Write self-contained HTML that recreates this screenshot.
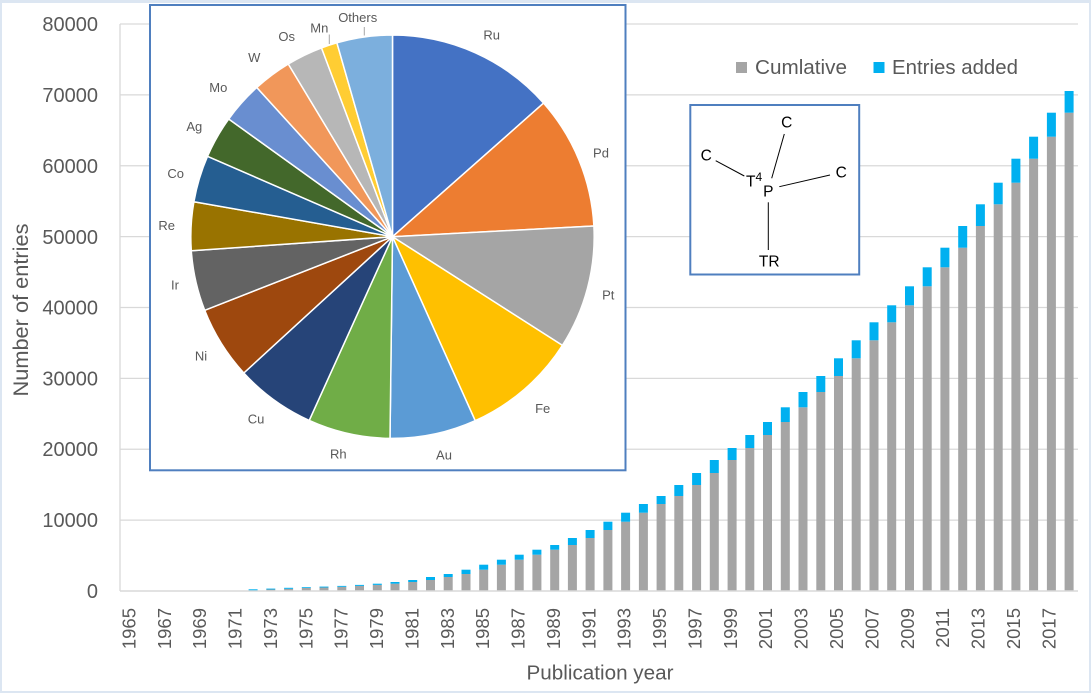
<!DOCTYPE html>
<html><head><meta charset="utf-8"><style>
html,body{margin:0;padding:0;background:#dce6f2;}
svg{display:block;}
text{font-family:"Liberation Sans",sans-serif;}
</style></head><body>
<svg width="1091" height="693" viewBox="0 0 1091 693" xmlns="http://www.w3.org/2000/svg">
<rect x="0" y="0" width="1091" height="693" fill="#dce6f2"/>
<rect x="2" y="3" width="1087" height="688" fill="#ffffff"/>

<!-- gridlines -->
<g stroke="#d9d9d9" stroke-width="1.3">
<line x1="120" y1="24" x2="1078" y2="24"/>
<line x1="120" y1="94.9" x2="1078" y2="94.9"/>
<line x1="120" y1="165.75" x2="1078" y2="165.75"/>
<line x1="120" y1="236.6" x2="1078" y2="236.6"/>
<line x1="120" y1="307.5" x2="1078" y2="307.5"/>
<line x1="120" y1="378.4" x2="1078" y2="378.4"/>
<line x1="120" y1="449.25" x2="1078" y2="449.25"/>
<line x1="120" y1="520.1" x2="1078" y2="520.1"/>
<line x1="120" y1="24" x2="120" y2="591"/>
</g>

<!-- y tick labels -->
<g font-size="20" fill="#595959" text-anchor="end">
<text x="98" y="31">80000</text>
<text x="98" y="102">70000</text>
<text x="98" y="173">60000</text>
<text x="98" y="244">50000</text>
<text x="98" y="314.5">40000</text>
<text x="98" y="385.5">30000</text>
<text x="98" y="456">20000</text>
<text x="98" y="527">10000</text>
<text x="98" y="598">0</text>
</g>

<!-- bars -->
<g fill="#a5a5a5">
<rect x="266.3" y="589.5" width="9" height="1.5"/>
<rect x="284.1" y="588.8" width="9" height="2.2"/>
<rect x="301.8" y="587.9" width="9" height="3.1"/>
<rect x="319.5" y="587.5" width="9" height="3.5"/>
<rect x="337.3" y="586.8" width="9" height="4.2"/>
<rect x="355.0" y="585.9" width="9" height="5.1"/>
<rect x="372.8" y="584.9" width="9" height="6.1"/>
<rect x="390.5" y="583.7" width="9" height="7.3"/>
<rect x="408.2" y="582" width="9" height="9"/>
<rect x="426.0" y="580" width="9" height="11"/>
<rect x="443.7" y="577" width="9" height="14"/>
<rect x="461.5" y="574" width="9" height="17"/>
<rect x="479.2" y="569.7" width="9" height="21.3"/>
<rect x="496.9" y="564.7" width="9" height="26.3"/>
<rect x="514.7" y="559.7" width="9" height="31.3"/>
<rect x="532.4" y="554.7" width="9" height="36.3"/>
<rect x="550.2" y="549.7" width="9" height="41.3"/>
<rect x="567.9" y="545" width="9" height="46"/>
<rect x="585.6" y="538" width="9" height="53"/>
<rect x="603.4" y="530" width="9" height="61"/>
<rect x="621.1" y="521.7" width="9" height="69.3"/>
<rect x="638.9" y="512.7" width="9" height="78.3"/>
<rect x="656.6" y="504" width="9" height="87"/>
<rect x="674.3" y="496" width="9" height="95"/>
<rect x="692.1" y="485" width="9" height="106"/>
<rect x="709.8" y="473" width="9" height="118"/>
<rect x="727.6" y="460" width="9" height="131"/>
<rect x="745.3" y="448" width="9" height="143"/>
<rect x="763.0" y="435" width="9" height="156"/>
<rect x="780.8" y="422" width="9" height="169"/>
<rect x="798.5" y="407.3" width="9" height="183.7"/>
<rect x="816.3" y="392" width="9" height="199"/>
<rect x="834.0" y="376" width="9" height="215"/>
<rect x="851.7" y="358.3" width="9" height="232.7"/>
<rect x="869.5" y="340.3" width="9" height="250.7"/>
<rect x="887.2" y="322.3" width="9" height="268.7"/>
<rect x="905.0" y="305.3" width="9" height="285.7"/>
<rect x="922.7" y="286.3" width="9" height="304.7"/>
<rect x="940.4" y="267.3" width="9" height="323.7"/>
<rect x="958.2" y="247.7" width="9" height="343.3"/>
<rect x="975.9" y="226" width="9" height="365"/>
<rect x="993.7" y="204.3" width="9" height="386.7"/>
<rect x="1011.4" y="182.7" width="9" height="408.3"/>
<rect x="1029.1" y="158.7" width="9" height="432.3"/>
<rect x="1046.9" y="136.7" width="9" height="454.3"/>
<rect x="1064.6" y="112.7" width="9" height="478.3"/>
</g>
<g fill="#00b0f0">
<rect x="248.6" y="589.3" width="9" height="1.7"/>
<rect x="266.3" y="588.6" width="9" height="0.9"/>
<rect x="284.1" y="587.8" width="9" height="1"/>
<rect x="301.8" y="587.2" width="9" height="0.8"/>
<rect x="319.5" y="586.6" width="9" height="0.9"/>
<rect x="337.3" y="585.9" width="9" height="0.9"/>
<rect x="355.0" y="584.9" width="9" height="1.0"/>
<rect x="372.8" y="583.7" width="9" height="1.2"/>
<rect x="390.5" y="582.0" width="9" height="1.7"/>
<rect x="408.2" y="580" width="9" height="2"/>
<rect x="426.0" y="577" width="9" height="3"/>
<rect x="443.7" y="574" width="9" height="3"/>
<rect x="461.5" y="569.7" width="9" height="4.3"/>
<rect x="479.2" y="564.7" width="9" height="5"/>
<rect x="496.9" y="559.7" width="9" height="5"/>
<rect x="514.7" y="554.7" width="9" height="5"/>
<rect x="532.4" y="549.7" width="9" height="5"/>
<rect x="550.2" y="545" width="9" height="4.7"/>
<rect x="567.9" y="538" width="9" height="7"/>
<rect x="585.6" y="530" width="9" height="8"/>
<rect x="603.4" y="521.7" width="9" height="8.3"/>
<rect x="621.1" y="512.7" width="9" height="9"/>
<rect x="638.9" y="504" width="9" height="8.7"/>
<rect x="656.6" y="496" width="9" height="8"/>
<rect x="674.3" y="485" width="9" height="11"/>
<rect x="692.1" y="473" width="9" height="12"/>
<rect x="709.8" y="460" width="9" height="13"/>
<rect x="727.6" y="448" width="9" height="12"/>
<rect x="745.3" y="435" width="9" height="13"/>
<rect x="763.0" y="422" width="9" height="13"/>
<rect x="780.8" y="407.3" width="9" height="14.7"/>
<rect x="798.5" y="392" width="9" height="15.3"/>
<rect x="816.3" y="376" width="9" height="16"/>
<rect x="834.0" y="358.3" width="9" height="17.7"/>
<rect x="851.7" y="340.3" width="9" height="18"/>
<rect x="869.5" y="322.3" width="9" height="18"/>
<rect x="887.2" y="305.3" width="9" height="17"/>
<rect x="905.0" y="286.3" width="9" height="19"/>
<rect x="922.7" y="267.3" width="9" height="19"/>
<rect x="940.4" y="247.7" width="9" height="19.6"/>
<rect x="958.2" y="226" width="9" height="21.7"/>
<rect x="975.9" y="204.3" width="9" height="21.7"/>
<rect x="993.7" y="182.7" width="9" height="21.6"/>
<rect x="1011.4" y="158.7" width="9" height="24"/>
<rect x="1029.1" y="136.7" width="9" height="22"/>
<rect x="1046.9" y="112.7" width="9" height="24"/>
<rect x="1064.6" y="91" width="9" height="21.7"/>
</g>

<!-- x axis line -->
<line x1="120" y1="591" x2="1078" y2="591" stroke="#d9d9d9" stroke-width="1.5"/>

<!-- x labels -->
<g font-size="18.5" fill="#595959" text-anchor="end">
<text transform="translate(135.4,608) rotate(-90)">1965</text>
<text transform="translate(170.8,608) rotate(-90)">1967</text>
<text transform="translate(206.2,608) rotate(-90)">1969</text>
<text transform="translate(241.5,608) rotate(-90)">1971</text>
<text transform="translate(276.9,608) rotate(-90)">1973</text>
<text transform="translate(312.3,608) rotate(-90)">1975</text>
<text transform="translate(347.7,608) rotate(-90)">1977</text>
<text transform="translate(383.1,608) rotate(-90)">1979</text>
<text transform="translate(418.4,608) rotate(-90)">1981</text>
<text transform="translate(453.8,608) rotate(-90)">1983</text>
<text transform="translate(489.2,608) rotate(-90)">1985</text>
<text transform="translate(524.6,608) rotate(-90)">1987</text>
<text transform="translate(560.0,608) rotate(-90)">1989</text>
<text transform="translate(595.3,608) rotate(-90)">1991</text>
<text transform="translate(630.7,608) rotate(-90)">1993</text>
<text transform="translate(666.1,608) rotate(-90)">1995</text>
<text transform="translate(701.5,608) rotate(-90)">1997</text>
<text transform="translate(736.9,608) rotate(-90)">1999</text>
<text transform="translate(772.2,608) rotate(-90)">2001</text>
<text transform="translate(807.6,608) rotate(-90)">2003</text>
<text transform="translate(843.0,608) rotate(-90)">2005</text>
<text transform="translate(878.4,608) rotate(-90)">2007</text>
<text transform="translate(913.8,608) rotate(-90)">2009</text>
<text transform="translate(949.1,608) rotate(-90)">2011</text>
<text transform="translate(984.5,608) rotate(-90)">2013</text>
<text transform="translate(1019.9,608) rotate(-90)">2015</text>
<text transform="translate(1055.3,608) rotate(-90)">2017</text>
</g>

<!-- axis titles -->
<text transform="translate(28,310) rotate(-90)" font-size="21" fill="#595959" text-anchor="middle" textLength="173" lengthAdjust="spacingAndGlyphs">Number of entries</text>
<text x="600" y="679.5" font-size="20" fill="#595959" text-anchor="middle" textLength="147" lengthAdjust="spacingAndGlyphs">Publication year</text>

<!-- legend -->
<rect x="736" y="62" width="11" height="11" fill="#a5a5a5"/>
<text x="755" y="74" font-size="20" fill="#595959" textLength="92" lengthAdjust="spacingAndGlyphs">Cumlative</text>
<rect x="873.5" y="62" width="11" height="11" fill="#00b0f0"/>
<text x="892" y="74" font-size="20" fill="#595959" textLength="126" lengthAdjust="spacingAndGlyphs">Entries added</text>

<!-- pie inset -->
<rect x="150" y="5" width="475.5" height="465.3" fill="#ffffff" stroke="#4f7fbf" stroke-width="2"/>
<g stroke="#ffffff" stroke-width="1.5" stroke-linejoin="round">
<path d="M392.5,236.7 L392.5,35 A201.7,201.7 0 0 1 543.6,103.1 Z" fill="#4472c4"/>
<path d="M392.5,236.7 L543.6,103.1 A201.7,201.7 0 0 1 593.9,226.0 Z" fill="#ed7d31"/>
<path d="M392.5,236.7 L593.9,226.0 A201.7,201.7 0 0 1 562.4,345.4 Z" fill="#a5a5a5"/>
<path d="M392.5,236.7 L562.4,345.4 A201.7,201.7 0 0 1 475.2,420.7 Z" fill="#ffc000"/>
<path d="M392.5,236.7 L475.2,420.7 A201.7,201.7 0 0 1 390.0,438.4 Z" fill="#5b9bd5"/>
<path d="M392.5,236.7 L390.0,438.4 A201.7,201.7 0 0 1 309.2,420.4 Z" fill="#70ad47"/>
<path d="M392.5,236.7 L309.2,420.4 A201.7,201.7 0 0 1 243.8,373.0 Z" fill="#264478"/>
<path d="M392.5,236.7 L243.8,373.0 A201.7,201.7 0 0 1 204.7,310.3 Z" fill="#9e480e"/>
<path d="M392.5,236.7 L204.7,310.3 A201.7,201.7 0 0 1 191.3,250.8 Z" fill="#636363"/>
<path d="M392.5,236.7 L191.3,250.8 A201.7,201.7 0 0 1 193.9,201.7 Z" fill="#997300"/>
<path d="M392.5,236.7 L193.9,201.7 A201.7,201.7 0 0 1 207.5,156.3 Z" fill="#255e91"/>
<path d="M392.5,236.7 L207.5,156.3 A201.7,201.7 0 0 1 228.7,119.0 Z" fill="#43682b"/>
<path d="M392.5,236.7 L228.7,119.0 A201.7,201.7 0 0 1 256.8,87.5 Z" fill="#698ed0"/>
<path d="M392.5,236.7 L256.8,87.5 A201.7,201.7 0 0 1 288.3,64.0 Z" fill="#f1975a"/>
<path d="M392.5,236.7 L288.3,64.0 A201.7,201.7 0 0 1 321.5,47.9 Z" fill="#b7b7b7"/>
<path d="M392.5,236.7 L321.5,47.9 A201.7,201.7 0 0 1 336.9,42.8 Z" fill="#ffcd33"/>
<path d="M392.5,236.7 L336.9,42.8 A201.7,201.7 0 0 1 392.5,35 Z" fill="#7cafdd"/>
</g>
<g stroke="#a6a6a6" stroke-width="1">
<line x1="329.3" y1="34.5" x2="329.3" y2="44"/>
<line x1="364.3" y1="27" x2="364.3" y2="35.5"/>
</g>
<g font-size="13" fill="#595959" text-anchor="middle">
<text x="491.7" y="39.5">Ru</text>
<text x="601" y="157.5">Pd</text>
<text x="608.3" y="299.5">Pt</text>
<text x="542.7" y="412.8">Fe</text>
<text x="444" y="459.5">Au</text>
<text x="338.3" y="458.5">Rh</text>
<text x="256" y="423.5">Cu</text>
<text x="201" y="360.5">Ni</text>
<text x="175" y="289.5">Ir</text>
<text x="166.7" y="230.2">Re</text>
<text x="175.7" y="177.8">Co</text>
<text x="194.3" y="131">Ag</text>
<text x="218.3" y="92.2">Mo</text>
<text x="254.3" y="62.2">W</text>
<text x="286.7" y="41.2">Os</text>
<text x="319.3" y="32.5">Mn</text>
<text x="357.7" y="22.2">Others</text>
</g>

<!-- structure inset -->
<rect x="690.3" y="105" width="168.9" height="169.5" fill="#ffffff" stroke="#4f7fbf" stroke-width="2"/>
<g stroke="#000000" stroke-width="1">
<line x1="784.3" y1="134" x2="771.7" y2="178.3"/>
<line x1="715.7" y1="160.7" x2="744.3" y2="176"/>
<line x1="779.3" y1="186.7" x2="830" y2="175"/>
<line x1="768.3" y1="202.3" x2="768.3" y2="250"/>
</g>
<g font-size="15.5" fill="#000000">
<text x="786.7" y="127.3" text-anchor="middle">C</text>
<text x="706.2" y="160.7" text-anchor="middle">C</text>
<text x="841.2" y="177.3" text-anchor="middle">C</text>
<text x="746" y="186.7">T</text>
<text x="755.5" y="181" font-size="12">4</text>
<text x="768.3" y="196.3" text-anchor="middle">P</text>
<text x="769.2" y="266.7" text-anchor="middle">TR</text>
</g>
</svg>
</body></html>
